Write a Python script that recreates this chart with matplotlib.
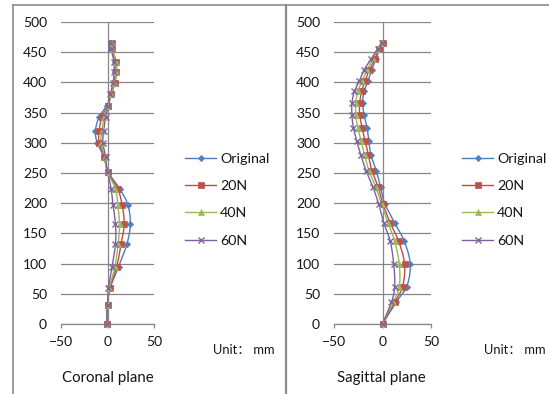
import numpy as np
import matplotlib
matplotlib.use("Agg")
import matplotlib.pyplot as plt
from matplotlib.lines import Line2D

plt.rcParams['font.family'] = ['Lato', 'Noto Sans CJK SC', 'DejaVu Sans']

# ---------------- data ----------------
series_names = ["Original", "20N", "40N", "60N"]

y_coronal = [0, 32, 60, 95, 133, 165, 197, 224, 251, 277, 300, 320, 343, 361, 380, 399, 417, 434, 455, 465]
cor_original = [-1, 0, 3, 12, 21, 24.5, 22, 13, 1, -4, -11, -13, -9, -1, 4, 7, 8, 8, 4, 4]
cor_20N = [-1, 0, 2.5, 10, 14.6, 18, 15.7, 11, 0.5, -3.5, -9, -9, -6, 0, 4, 8, 9.5, 9.5, 5, 5]
cor_40N = [-1, 0, 2, 8, 11.5, 13, 11, 8.6, 0, -3, -7, -6, -3.5, 0.5, 4, 7.5, 9, 9, 5, 5]
cor_60N = [-1, 0, 1, 5, 8.6, 8.6, 6, 4, 0, -2, -5, -4, -2, 1, 3, 6, 7, 7, 4, 4]

y_sagittal = [0, 36, 62, 99, 137, 167, 199, 227, 254, 280, 303, 325, 346, 366, 385, 402, 421, 438, 456, 466]
sag_original = [0, 14, 25, 28.6, 22.5, 12.6, 2.5, -2, -6.5, -12, -14, -16, -19, -20.5, -19, -15, -11, -7, -3, 0]
sag_20N = [0, 12.6, 20.7, 22.8, 16.7, 8, 0.5, -4.5, -11, -14.5, -18, -21, -23.5, -23.5, -21.5, -18, -13.5, -8, -3.5, 0]
sag_40N = [0, 11, 17.3, 17.3, 12.6, 5.8, -1, -7, -14, -18.5, -22, -25.5, -27.5, -27.5, -25.5, -21, -16, -10, -4.5, -1]
sag_60N = [0, 9.2, 12.6, 11.6, 8, 1.4, -4, -10, -17, -22.4, -26.5, -30, -31.5, -31.5, -29, -24, -19, -12, -5, -1]

y_ticks = [0, 50, 100, 150, 200, 250, 300, 350, 400, 450, 500]
x_ticks = [-50, 0, 50]
panel_titles = ["Coronal plane", "Sagittal plane"]
unit_label = "Unit\uff1a mm"

# ---------------- style ----------------
line_colors = ["#4A7EBB", "#BE4B48", "#98B954", "#7D60A0"]
marker_colors = ["#4F81BD", "#C0504D", "#9BBB59", "#8064A2"]
markers = ["D", "s", "^", "x"]
msizes = [3.2, 4.5, 4.5, 4.5]
grid_color = "#868686"
text_color = "#151515"

W, H = 549, 394
fig = plt.figure(figsize=(W / 100, H / 100), dpi=100)


def smooth(xs, ys, n=12):
    """Catmull-Rom spline through points (Excel-like smoothed line)."""
    P = np.column_stack([xs, ys]).astype(float)
    P = np.vstack([P[0], P, P[-1]])
    out = []
    t = np.linspace(0, 1, n, endpoint=False)
    for i in range(1, len(P) - 2):
        p0, p1, p2, p3 = P[i - 1], P[i], P[i + 1], P[i + 2]
        tt = t[:, None]
        seg = 0.5 * ((2 * p1) + (-p0 + p2) * tt + (2 * p0 - 5 * p1 + 4 * p2 - p3) * tt ** 2
                     + (-p0 + 3 * p1 - 3 * p2 + p3) * tt ** 3)
        out.append(seg)
    out.append(P[-2][None, :])
    S = np.vstack(out)
    return S[:, 0], S[:, 1]


def px_rect(x0, y0, x1, y1):
    return [x0 / W, 1 - y1 / H, (x1 - x0) / W, (y1 - y0) / H]


panels = [
    (px_rect(61, 22, 154, 324), y_coronal, [cor_original, cor_20N, cor_40N, cor_60N], 185, 213, 108),
    (px_rect(334, 22, 431, 324), y_sagittal, [sag_original, sag_20N, sag_40N, sag_60N], 462, 484, 381.5),
]

for k, (rect, yv, series, leg_x, unit_x, title_x) in enumerate(panels):
    ax = fig.add_axes(rect)
    ax.set_xlim(-50, 50)
    ax.set_ylim(0, 500)
    ax.set_facecolor("none")
    for s in ["left", "right", "top"]:
        ax.spines[s].set_visible(False)
    ax.spines["bottom"].set_color(grid_color)
    ax.spines["bottom"].set_linewidth(0.9)
    ax.set_yticks(y_ticks)
    ax.set_xticks(x_ticks)
    ax.tick_params(axis="y", length=0, pad=10, labelsize=10, labelcolor=text_color)
    ax.tick_params(axis="x", length=3, width=0.9, color=grid_color, pad=6, labelsize=10,
                   labelcolor=text_color)
    ax.yaxis.grid(True, color=grid_color, linewidth=0.9)
    ax.set_axisbelow(True)
    ax.axvline(0, color=grid_color, linewidth=0.9, zorder=1)

    handles = []
    for i, xs in enumerate(series):
        sx, sy = smooth(xs, yv)
        ax.plot(sx, sy, color=line_colors[i], lw=1.0, zorder=3, clip_on=False)
        ax.plot(xs, yv, linestyle="none", marker=markers[i], ms=msizes[i],
                color=marker_colors[i], mec=marker_colors[i], mew=1.0 if markers[i] == "x" else 0.5,
                zorder=4, clip_on=False)
        handles.append(Line2D([], [], color=line_colors[i], lw=1.0, marker=markers[i],
                              ms=msizes[i], mfc=marker_colors[i], mec=marker_colors[i],
                              mew=1.0 if markers[i] == "x" else 0.5))

    fig.legend(handles, series_names, loc="upper left",
               bbox_to_anchor=(leg_x / W, 1 - 152.5 / H), frameon=False,
               fontsize=10.3, handlelength=2.2, handletextpad=0.25, labelspacing=1.08,
               borderpad=0, borderaxespad=0, labelcolor=text_color)

    fig.text(unit_x / W, 1 - 350 / H, unit_label, fontsize=9.3, ha="left", va="center",
             color=text_color)
    fig.text(title_x / W, 1 - 378 / H, panel_titles[k], fontsize=10.8, ha="center",
             va="center", color=text_color)

# panel borders
border = "#8c8c8c"
fig.add_artist(Line2D([12.5 / W, 12.5 / W], [0, 1 - 4.5 / H], color=border, lw=1.2))
fig.add_artist(Line2D([12.5 / W, 1], [1 - 4.5 / H, 1 - 4.5 / H], color=border, lw=1.2))
fig.add_artist(Line2D([286 / W, 286 / W], [0, 1 - 4.5 / H], color=border, lw=1.6))

fig.savefig("out.png", dpi=100)
